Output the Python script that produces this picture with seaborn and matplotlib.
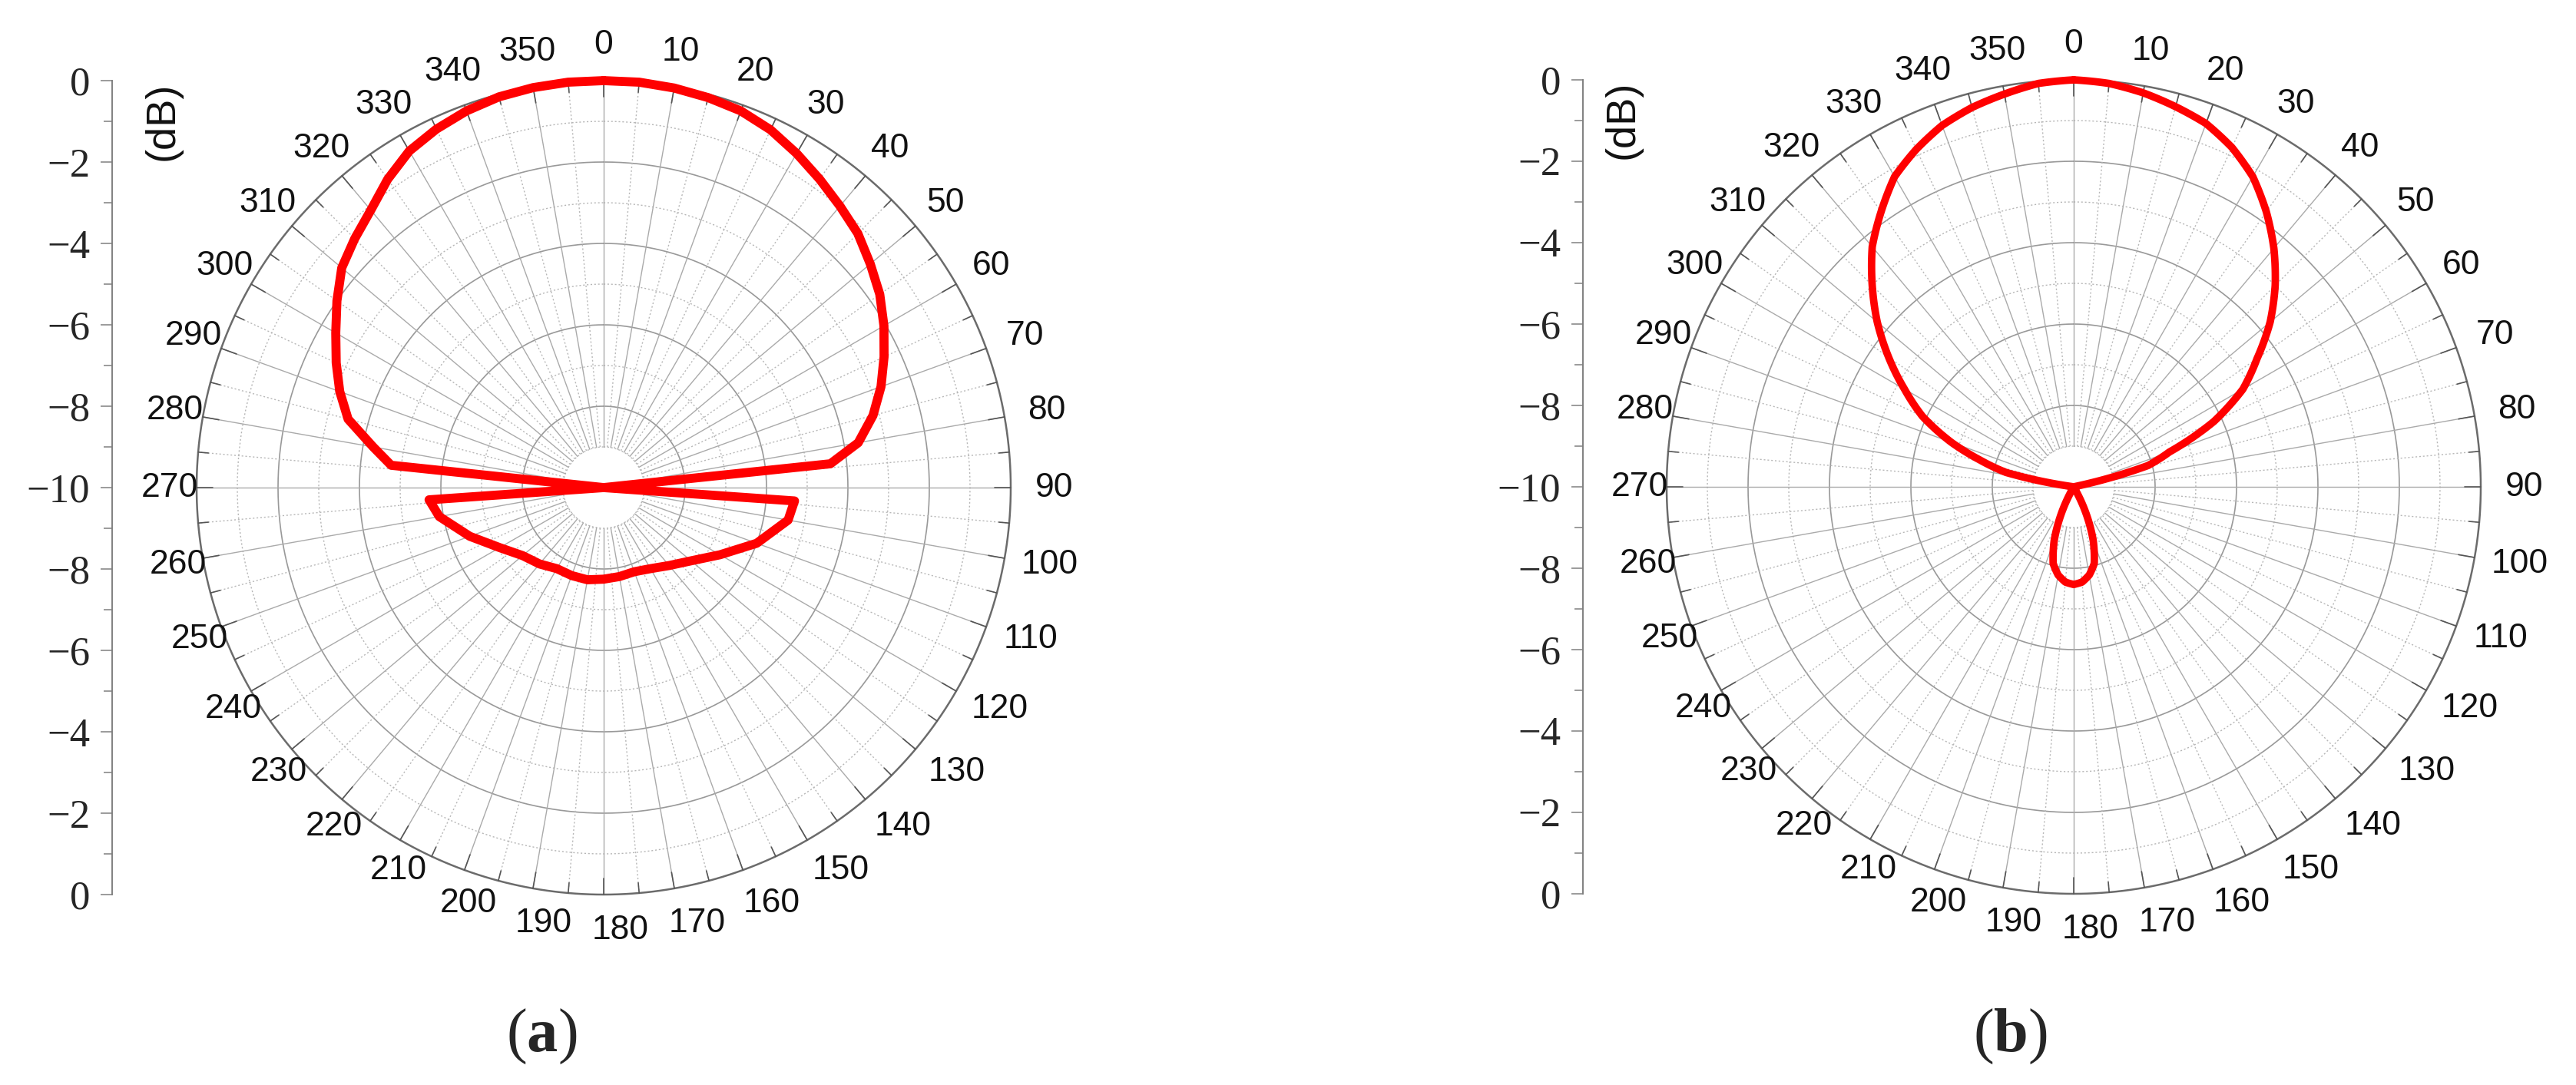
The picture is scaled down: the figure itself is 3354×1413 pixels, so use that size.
import numpy as np
import pandas as pd
import matplotlib
matplotlib.use("Agg")
import matplotlib.pyplot as plt
import seaborn as sns
from matplotlib.transforms import offset_copy

# radiation pattern (a): angle in degrees (clockwise from top), level in dB
angle_a = [0, 5, 10, 15, 20, 25, 30, 35, 40, 45, 50, 55, 60, 65, 70, 75, 80, 84,
           90, 94, 100, 110, 120, 130, 140, 150, 160, 170, 180, 190, 200, 210,
           220, 230, 240, 250, 260, 266, 270, 276, 280, 285, 290, 295, 300, 305,
           310, 315, 320, 325, 330, 335, 340, 345, 350, 355, 360]
db_a = [0.0, 0.0, -0.03, -0.08, -0.15, -0.3, -0.52, -0.75, -0.97, -1.17, -1.45,
        -1.72, -2.05, -2.4, -2.75, -3.15, -3.65, -4.4,
        -10.0, -5.3, -5.4, -6.0, -6.7, -7.2, -7.5, -7.7, -7.8, -7.78, -7.75,
        -7.7, -7.7, -7.7, -7.55, -7.4, -7.05, -6.5, -5.9, -5.7, -10.0, -4.75,
        -4.25, -3.5, -3.1, -2.75, -2.4, -2.0, -1.6, -1.35, -1.1, -0.75, -0.45,
        -0.28, -0.15, -0.06, -0.02, 0.0, 0.0]

# radiation pattern (b)
angle_b = [0, 5, 10, 15, 20, 25, 30, 35, 40, 45, 50, 55, 60, 65, 70, 74, 78,
           150, 155, 160, 165, 170, 175, 180, 185, 190, 195, 200, 205, 210,
           278, 282, 286, 290, 295, 300, 305, 310, 315, 320, 325, 330, 335,
           340, 345, 350, 355, 360]
db_b = [0.0, -0.05, -0.17, -0.33, -0.5, -0.8, -1.2, -1.75, -2.35, -3.0, -3.7,
        -4.5, -5.2, -6.2, -7.5, -8.1, -10.0,
        -10.0, -9.3, -8.6, -8.05, -7.8, -7.65, -7.6, -7.65, -7.8, -8.05, -8.6,
        -9.3, -10.0,
        -10.0, -8.3, -7.6, -6.8, -5.9, -5.2, -4.45, -3.7, -3.0, -2.3, -1.75,
        -1.2, -0.85, -0.55, -0.35, -0.2, -0.05, 0.0]

theta_labels = list(range(0, 360, 10))
scale_labels = [0, -2, -4, -6, -8, -10, -8, -6, -4, -2, 0]
captions = ["a", "b"]

W, H = 3355, 1413
R = 530

sns.set_style("white")
plt.rcParams["font.family"] = ["Liberation Sans", "DejaVu Sans"]
plt.rcParams["mathtext.fontset"] = "custom"
plt.rcParams["mathtext.rm"] = "Liberation Serif"
plt.rcParams["mathtext.bf"] = "Liberation Serif:bold"

fig = plt.figure(figsize=(W / 100, H / 100), dpi=100)
fig.patch.set_facecolor("white")


def panel(cx, cy, angles, dbs, lw, smooth, axis_x, db_pos, caption, cap_pos):
    rect = [(cx - R) / W, (H - cy - R) / H, 2 * R / W, 2 * R / H]
    ax = fig.add_axes(rect, projection="polar")
    ax.set_theta_zero_location("N")
    ax.set_theta_direction(-1)
    ax.grid(False)
    ax.spines["polar"].set_visible(False)
    ax.patch.set_alpha(0)

    full = np.linspace(0, 2 * np.pi, 721)
    # rings
    for r in [-8, -6, -4, -2]:
        ax.plot(full, np.full_like(full, r), color="#999999", lw=1.2)
    for r in [-9, -7, -5, -3, -1]:
        ax.plot(full, np.full_like(full, r), color="#b6b6b6", lw=1.0,
                ls=(0, (1.5, 2)))
    # spokes
    for deg in range(0, 360, 5):
        t = np.deg2rad(deg)
        r0 = -10 if deg in (90, 270) else -9
        if deg % 10 == 0:
            ax.plot([t, t], [r0, 0], color="#aaaaaa", lw=1.0)
        else:
            ax.plot([t, t], [r0, 0], color="#b8b8b8", lw=1.0, ls=(0, (1.5, 2)))
    # outer circle + ticks
    ax.plot(full, np.zeros_like(full), color="#6b6b6b", lw=1.8, clip_on=False)
    for deg in range(0, 360, 5):
        t = np.deg2rad(deg)
        L = 0.4 if deg % 10 == 0 else 0.25
        ax.plot([t, t], [0, -L], color="#555555", lw=1.2, clip_on=False)

    df = pd.DataFrame({"theta": np.deg2rad(angles), "db": dbs})
    sns.lineplot(data=df, x="theta", y="db", sort=False, estimator=None,
                 color="#ff0000", lw=lw, ax=ax, solid_joinstyle="round",
                 solid_capstyle="round")
    curve = ax.lines[-1]
    curve.set_clip_on(False)
    curve.set_zorder(5)
    if smooth:
        # follow the polar grid between samples instead of straight chords
        curve.get_path()._interpolation_steps = 20

    ax.set_ylim(-10, 0)
    ax.set_xticks([])
    ax.set_yticks([])
    ax.set_xlabel("")
    ax.set_ylabel("")

    for deg in theta_labels:
        t = np.deg2rad(deg)
        dx = 11 * (1 - np.cos(t))
        tr = offset_copy(ax.transData, fig=fig, x=dx, y=0, units="dots")
        ax.text(t, 0.87, str(deg), transform=tr, ha="center", va="center",
                fontsize=32, color="#111111", clip_on=False)

    # dB scale bar on the left
    sax = fig.add_axes([axis_x / W, rect[1], 0.0001, rect[3]])
    sax.patch.set_visible(False)
    for s in ["top", "right", "bottom"]:
        sax.spines[s].set_visible(False)
    sax.spines["left"].set_color("#808080")
    sax.spines["left"].set_linewidth(1.4)
    sax.set_ylim(0, 20)
    sax.set_xticks([])
    sax.set_yticks(range(0, 21, 2))
    sax.set_yticks(range(1, 20, 2), minor=True)
    sax.set_yticklabels([str(v).replace("-", "\u2212") for v in scale_labels],
                        family="Liberation Serif", fontsize=38)
    sax.tick_params(axis="y", which="major", length=10.8, width=1.1,
                    color="#808080", pad=10, left=True)
    sax.tick_params(axis="y", which="minor", length=8, width=1.1,
                    color="#808080", left=True)
    fig.text(db_pos[0] / W, 1 - db_pos[1] / H, "(dB)", rotation=90,
             ha="center", va="center", fontsize=39, color="#111111")
    fig.text(cap_pos[0] / W, 1 - cap_pos[1] / H,
             "(" + r"$\mathbf{" + caption + "}$" + ")",
             family="Liberation Serif", fontsize=58, ha="center", va="center")


panel(786, 635, angle_a, db_a, 8.5, False, 146, (212, 158), captions[0], (705, 1350))
panel(2700, 634, angle_b, db_b, 7.0, True, 2061, (2113, 156), captions[1], (2617, 1350))

fig.savefig("out.png", dpi=100, facecolor="white")
